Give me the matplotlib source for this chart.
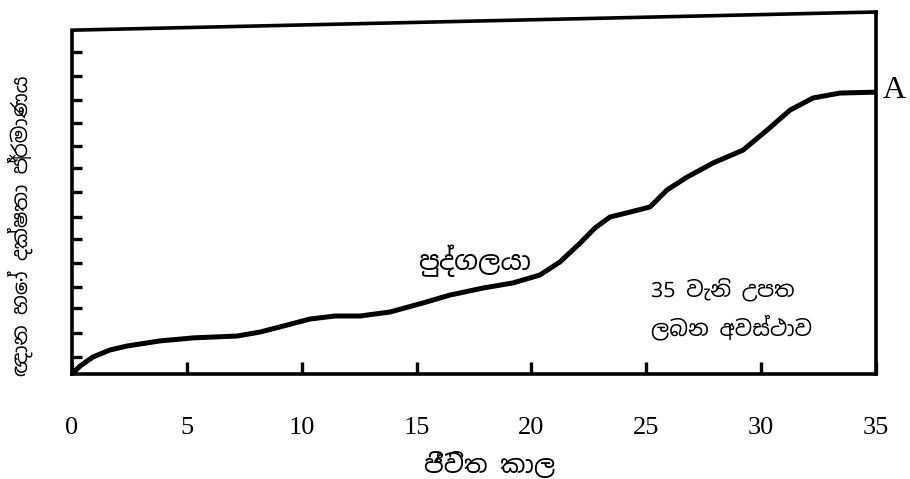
#!/usr/bin/env python3
"""Learning curve sketch: knowledge/skill over a lifetime (Sinhala labels)."""

import matplotlib
matplotlib.use("Agg")
import matplotlib.pyplot as plt
from matplotlib import font_manager, ft2font

# curve: age (years) -> amount (tick units)
age = [0, 0.35, 0.91, 1.65, 2.39, 3.83, 5.27, 7.18, 8.18, 9.36, 10.36,
       11.45, 12.54, 13.84, 15.28, 16.46, 17.89, 19.20, 20.37, 21.24,
       22.12, 22.77, 23.42, 24.29, 25.16, 25.90, 26.77, 27.91, 29.21,
       30.26, 31.26, 32.26, 33.43, 35.0]
amount = [0, 0.34, 0.73, 1.03, 1.20, 1.42, 1.55, 1.63, 1.80, 2.10, 2.36,
          2.49, 2.49, 2.66, 3.05, 3.39, 3.69, 3.91, 4.25, 4.81,
          5.62, 6.27, 6.74, 6.95, 7.17, 7.90, 8.45, 9.06, 9.61,
          10.47, 11.33, 11.85, 12.06, 12.10]

x_ticks = [0, 5, 10, 15, 20, 25, 30, 35]
x_ticklabels = ["0", "5", "10", "15", "20", "25", "30", "35"]
# hand-drawn, unlabelled marks on the left edge
y_ticks = [0.73, 1.76, 2.83, 3.73, 4.76, 5.79, 6.74, 7.81, 8.84, 9.79,
           10.77, 11.76, 12.79, 13.82]

x_label = "ජීවිත කාල"
y_label = "ඥාන හෝ දක්ෂතා ප්‍රමාණය"
curve_label = "පුද්ගලයා"
note_label = "35 වැනි උපත\nලබන අවස්ථාව"
end_label = "A"

# the box top is drawn slightly skewed in the original
top_left, top_right = 14.76, 15.54


def find_sinhala_font():
    fonts = font_manager.fontManager.ttflist
    for f in fonts:
        if "Sinhala" in f.name:
            return f.name
    for f in fonts:
        try:
            if 0x0DA2 in ft2font.FT2Font(f.fname).get_charmap():
                return f.name
        except Exception:
            pass
    return None


sinhala = find_sinhala_font()
text_family = [sinhala, "DejaVu Sans"] if sinhala else ["Noto Sans", "DejaVu Sans"]
serif = ["Liberation Serif", "DejaVu Serif"]

fig = plt.figure(figsize=(9.10, 4.79), dpi=100)
ax = fig.add_axes([72 / 910, 105 / 479, 804 / 910, 362 / 479])

ax.plot(age, amount, color="black", lw=3.6, solid_joinstyle="round",
        solid_capstyle="round")

ax.set_xlim(0, 35)
ax.set_ylim(0, top_right)

for side in ("top", "left"):
    ax.spines[side].set_visible(False)
for side in ("bottom", "right"):
    ax.spines[side].set_linewidth(2.6)
# left edge and skewed top edge as one line
ax.plot([35, 0, 0], [top_right, top_left, 0], color="black", lw=2.6,
        clip_on=False, solid_joinstyle="miter")

ax.set_xticks(x_ticks)
ax.set_xticklabels(x_ticklabels, family=serif, fontsize=19)
ax.tick_params(axis="x", direction="in", length=9, width=2.4, pad=31)
ax.set_yticks(y_ticks)
ax.set_yticklabels([])
ax.tick_params(axis="y", direction="in", length=7, width=2.4)

ax.set_xlabel(x_label, family=text_family, fontsize=18)
ax.xaxis.label.set_va("center")
ax.xaxis.set_label_coords(0.52, -0.251)
ax.set_ylabel(y_label, family=text_family, fontsize=15)
ax.yaxis.label.set_va("center")
ax.yaxis.set_label_coords(-0.065, 0.41)

ax.text(17.5, 4.85, curve_label, family=text_family, fontsize=19,
        ha="center", va="center")
ax.text(25.2, 4.15, note_label, family=text_family, fontsize=15.5,
        ha="left", va="top", linespacing=1.65)
ax.text(35.3, 12.15, end_label, family=serif, fontsize=23,
        ha="left", va="center", clip_on=False)

fig.savefig("out.png", dpi=100)
